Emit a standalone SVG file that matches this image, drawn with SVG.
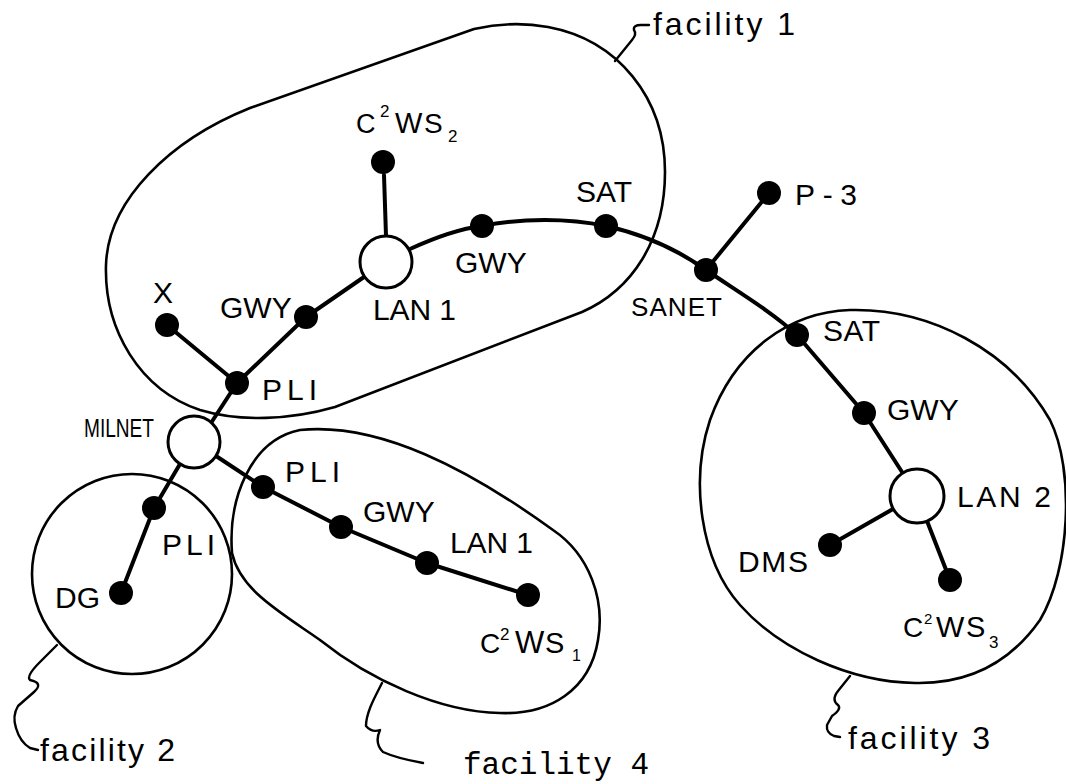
<svg xmlns="http://www.w3.org/2000/svg" width="1066" height="784" viewBox="0 0 1066 784">
<style>
.fac{fill:none;stroke:#000;stroke-width:2.6;stroke-linecap:round;stroke-linejoin:round}
.lead{fill:none;stroke:#000;stroke-width:2.4;stroke-linecap:round;stroke-linejoin:round}
.link{fill:none;stroke:#000;stroke-width:4;stroke-linecap:round;stroke-linejoin:round}
.dot{fill:#000}
.hub{fill:#fff;stroke:#000;stroke-width:3}
.lbl{font-family:"Liberation Sans",Arial,sans-serif;font-size:30px;fill:#000}
.sm{font-size:26px}
.fl{font-family:"Liberation Sans",Arial,sans-serif;font-size:32px;fill:#000}
.mono{font-family:"Liberation Mono","Courier New",monospace;font-size:31px;fill:#000}
</style>
<rect width="1066" height="784" fill="#fff"/>

<!-- facility boundaries with their leader squiggles -->
<g id="facility-1">
  <path class="fac" d="M335,407 L582,312 C632,290 665,240 665,172 C665,98 618,40 548,27 C520,22 496,24 474,29 L250,108 C170,140 108,200 106,265 C104,330 140,390 200,410 C240,422 290,420 335,407 Z"/>
  <path class="lead" d="M615,61 L632,40 Q637,34 634,30 Q633,25 641,25 L649,25"/>
  <text class="fl" x="653" y="35" textLength="142">facility 1</text>
</g>
<g id="facility-2">
  <circle class="fac" cx="132" cy="574" r="100"/>
  <path class="lead" d="M57,645 L40,662 Q26,676 30,680 Q44,683 34,692 L18,706 Q12,716 16,728 Q20,742 30,748 L38,750"/>
  <text class="fl" x="40" y="761" textLength="135">facility 2</text>
</g>
<g id="facility-3">
  <path class="fac" d="M850,310 C930,308 1010,350 1050,420 C1075,470 1070,570 1040,620 C1005,670 960,684 915,683 C850,682 780,650 740,605 C700,560 690,480 710,420 C735,350 790,312 850,310 Z"/>
  <path class="lead" d="M850,676 L838,691 Q831,700 838,705 Q842,709 832,716 L827,725 Q826,733 834,736 L840,737"/>
  <text class="fl" x="848" y="749" textLength="142">facility 3</text>
</g>
<g id="facility-4">
  <path class="fac" d="M232,553 C228,500 250,440 300,430 C380,422 470,470 553,530 C590,555 605,600 598,640 C590,690 550,715 500,713 C440,712 370,680 320,640 C280,612 240,590 232,553 Z"/>
  <path class="lead" d="M382,683 C376,695 366,712 366,726 Q372,733 380,730 Q374,743 383,752 Q396,758 423,763"/>
  <text class="mono" x="463" y="774">facility 4</text>
</g>

<!-- network links -->
<g id="connectors">
  <path class="link" d="M410,249 C434,238 458,229 482,226 C522,218 568,218 606,226 C642,234 678,250 706,270 C740,293 772,312 797,335 L864,413 L902,472"/>
  <path class="link" d="M364,277 L306,317 L237,383 L211,423"/>
  <path class="link" d="M384,175 L386,236"/>
  <path class="link" d="M167,325 L237,383"/>
  <path class="link" d="M706,270 L769,193"/>
  <path class="link" d="M180,464 L154,508 L121,593"/>
  <path class="link" d="M216,456 L263,487 L341,527 L427,563 L528,595"/>
  <path class="link" d="M893,509 L830,545"/>
  <path class="link" d="M927,521 L950,580"/>
</g>

<!-- hubs -->
<g id="lan1-hub"><circle class="hub" cx="386" cy="262" r="26"/><text class="lbl" x="373" y="320" textLength="83">LAN 1</text></g>
<g id="milnet"><circle class="hub" cx="194" cy="442" r="26"/><text class="lbl" x="84" y="437" style="font-size:26px" textLength="70" lengthAdjust="spacingAndGlyphs">MILNET</text></g>
<g id="lan2"><circle class="hub" cx="917" cy="496" r="27"/><text class="lbl" x="957" y="507" textLength="94">LAN 2</text></g>

<!-- stations -->
<g id="c2ws2"><circle class="dot" cx="383" cy="162" r="12"/>
  <text class="lbl"><tspan x="356" y="133" style="font-size:27px">C</tspan><tspan x="380" y="117" style="font-size:17px">2</tspan><tspan x="395" y="133" style="font-size:29px">W</tspan><tspan x="424" y="133" style="font-size:28px">S</tspan><tspan x="448" y="142" style="font-size:17px">2</tspan></text></g>
<g id="gwy-a"><circle class="dot" cx="482" cy="226" r="12"/><text class="lbl" x="455" y="273">GWY</text></g>
<g id="sat-a"><circle class="dot" cx="606" cy="226" r="12"/><text class="lbl" x="576" y="202" textLength="56">SAT</text></g>
<g id="sanet"><circle class="dot" cx="706" cy="270" r="12"/><text class="lbl sm" x="631" y="316" textLength="91">SANET</text></g>
<g id="p3"><circle class="dot" cx="769" cy="193" r="12"/><text class="lbl" x="795" y="205" textLength="62">P-3</text></g>
<g id="sat-b"><circle class="dot" cx="797" cy="335" r="12"/><text class="lbl" x="823" y="341" textLength="57">SAT</text></g>
<g id="gwy-b"><circle class="dot" cx="864" cy="413" r="12"/><text class="lbl" x="887" y="420">GWY</text></g>
<g id="dms"><circle class="dot" cx="830" cy="545" r="12"/><text class="lbl" x="738" y="572" textLength="70">DMS</text></g>
<g id="c2ws3"><circle class="dot" cx="950" cy="580" r="12"/>
  <text class="lbl"><tspan x="903" y="637" style="font-size:28px">C</tspan><tspan x="924" y="624" style="font-size:15px">2</tspan><tspan x="936" y="637" style="font-size:30px">W</tspan><tspan x="966" y="637" style="font-size:29px">S</tspan><tspan x="989" y="648" style="font-size:17px">3</tspan></text></g>
<g id="gwy-c"><circle class="dot" cx="306" cy="317" r="12"/><text class="lbl" x="220" y="318">GWY</text></g>
<g id="x"><circle class="dot" cx="167" cy="325" r="12"/><text class="lbl" x="153" y="303">X</text></g>
<g id="pli-a"><circle class="dot" cx="237" cy="383" r="12"/><text class="lbl" x="262" y="400" textLength="55">PLI</text></g>
<g id="pli-b"><circle class="dot" cx="154" cy="508" r="12"/><text class="lbl" x="162" y="555" textLength="53">PLI</text></g>
<g id="dg"><circle class="dot" cx="121" cy="593" r="12"/><text class="lbl" x="55" y="608">DG</text></g>
<g id="pli-c"><circle class="dot" cx="263" cy="487" r="12"/><text class="lbl" x="285" y="482" textLength="55">PLI</text></g>
<g id="gwy-d"><circle class="dot" cx="341" cy="527" r="12"/><text class="lbl" x="363" y="522">GWY</text></g>
<g id="lan1-node"><circle class="dot" cx="427" cy="563" r="12"/><text class="lbl" x="450" y="553" textLength="83">LAN 1</text></g>
<g id="c2ws1"><circle class="dot" cx="528" cy="595" r="12"/>
  <text class="lbl"><tspan x="480" y="653" style="font-size:28px">C</tspan><tspan x="500" y="640" style="font-size:17px">2</tspan><tspan x="515" y="653" style="font-size:31px">W</tspan><tspan x="545" y="653" style="font-size:29px">S</tspan><tspan x="572" y="661" style="font-size:16px">1</tspan></text></g>
</svg>
